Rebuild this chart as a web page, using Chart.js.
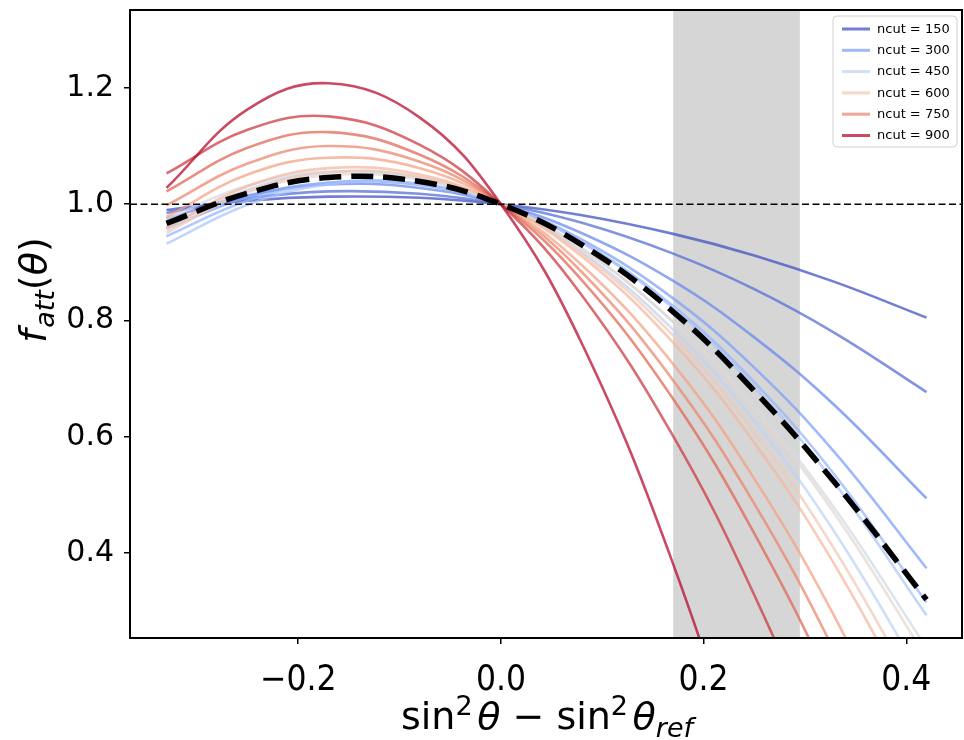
<!DOCTYPE html>
<html>
<head>
<meta charset="utf-8">
<script src="https://cdn.jsdelivr.net/npm/chart.js@4.4.0/dist/chart.umd.min.js"></script>
<style>
  html, body { margin: 0; padding: 0; background: #fff; }
  #c { display: block; }
</style>
</head>
<body>
<canvas id="c" width="964" height="740"></canvas>
<script>
(function() {
'use strict';

// --- data ---
const xVals = [-0.33, -0.25, -0.17, -0.08, 0, 0.08, 0.17, 0.25, 0.33, 0.42];
const ncutValues = [150, 200, 250, 300, 350, 400, 450, 500, 550, 600, 650, 700, 750, 800, 850, 900];
const legendNcuts = [150, 300, 450, 600, 750, 900];

const f150 = [0.990, 1.006, 1.013, 1.011, 1, 0.981, 0.949, 0.912, 0.866, 0.805];
const f200 = [0.985, 1.010, 1.022, 1.018, 1, 0.968, 0.915, 0.854, 0.778, 0.677];
const f250 = [0.975, 1.015, 1.034, 1.028, 1, 0.950, 0.868, 0.771, 0.653, 0.494];
const f300 = [0.958, 1.012, 1.037, 1.033, 1, 0.939, 0.838, 0.719, 0.572, 0.374];
const f350 = [0.945, 1.006, 1.037, 1.035, 1, 0.935, 0.825, 0.694, 0.533, 0.315];
const f400 = [0.932, 0.999, 1.034, 1.034, 1, 0.934, 0.821, 0.686, 0.519, 0.293];
const f450 = [0.960, 1.025, 1.055, 1.046, 1, 0.918, 0.784, 0.627, 0.434, 0.174];
const f500 = [0.975, 1.032, 1.056, 1.044, 1, 0.923, 0.798, 0.653, 0.475, 0.237];
const f550 = [0.956, 1.020, 1.050, 1.042, 1, 0.924, 0.797, 0.648, 0.466, 0.220];
const f600 = [0.951, 1.022, 1.055, 1.047, 1, 0.915, 0.774, 0.608, 0.404, 0.130];
const f650 = [0.960, 1.031, 1.062, 1.051, 1, 0.910, 0.762, 0.590, 0.378, 0.093];
const f700 = [0.978, 1.051, 1.080, 1.062, 1, 0.895, 0.725, 0.528, 0.288, -0.033];
const f750 = [0.998, 1.070, 1.100, 1.073, 1, 0.883, 0.697, 0.485, 0.228, -0.114];
const f800 = [1.022, 1.097, 1.124, 1.085, 1, 0.869, 0.665, 0.434, 0.157, -0.211];
const f850 = [1.053, 1.128, 1.151, 1.102, 1, 0.843, 0.601, 0.328, 0.000, -0.435];
const f900 = [1.028, 1.163, 1.208, 1.149, 1, 0.760, 0.381, -0.052, -0.576, -1.275];
const fMean = [0.967, 1.019, 1.046, 1.039, 1, 0.930, 0.815, 0.679, 0.520, 0.320];

const refLevel = 1.0;
const shadeBand = [0.17, 0.295];
const xRange = [-0.366, 0.455];
const yRange = [0.254, 1.334];
const xTicks = [-0.2, 0.0, 0.2, 0.4];
const yTicks = [0.4, 0.6, 0.8, 1.0, 1.2];

const curves = [f150, f200, f250, f300, f350, f400, f450, f500,
                f550, f600, f650, f700, f750, f800, f850, f900];

// coolwarm colormap stops
const cwStops = [
  [59, 76, 192], [98, 130, 234], [141, 176, 254], [184, 208, 249],
  [221, 221, 221], [245, 196, 173], [244, 154, 123], [222, 96, 77], [180, 4, 38]
];
function coolwarm(t, alpha) {
  const p = t * (cwStops.length - 1);
  const i = Math.min(Math.floor(p), cwStops.length - 2);
  const f = p - i;
  const c = cwStops[i].map((v, k) => Math.round(v + (cwStops[i + 1][k] - v) * f));
  return 'rgba(' + c[0] + ',' + c[1] + ',' + c[2] + ',' + alpha + ')';
}

function toPoints(ys) {
  return ys.map((y, i) => ({ x: xVals[i], y: y }));
}

const datasets = [];
datasets.push({
  label: 'ref',
  data: [{ x: xRange[0], y: refLevel }, { x: xRange[1], y: refLevel }],
  borderColor: '#000',
  borderWidth: 1.6,
  borderDash: [7, 3.5],
  tension: 0,
  order: 0,
  clip: 0
});
datasets.push({
  label: 'mean',
  data: toPoints(fMean),
  borderColor: '#000',
  borderWidth: 5.5,
  borderDash: [22, 10],
  order: 1,
  clip: 0
});
curves.forEach((ys, i) => {
  const t = (ncutValues[i] - ncutValues[0]) / (ncutValues[ncutValues.length - 1] - ncutValues[0]);
  datasets.push({
    label: 'ncut = ' + ncutValues[i],
    ncut: ncutValues[i],
    data: toPoints(ys),
    borderColor: coolwarm(t, 0.72),
    borderWidth: 2.6,
    order: 2 + (curves.length - i),
    clip: 0
  });
});

const FONT = "'DejaVu Sans', 'Liberation Sans', sans-serif";

// rich text: segments of {t, italic, scale, dy, gap}
function drawRich(ctx, segs, size, x, y) {
  let w = 0;
  segs.forEach(s => {
    ctx.font = (s.italic ? 'italic ' : '') + Math.round(size * (s.scale || 1)) + 'px ' + FONT;
    s.w = ctx.measureText(s.t).width + (s.gap || 0) * size;
    w += s.w;
  });
  let cx = x - w / 2;
  segs.forEach(s => {
    ctx.font = (s.italic ? 'italic ' : '') + Math.round(size * (s.scale || 1)) + 'px ' + FONT;
    ctx.fillText(s.t, cx, y + (s.dy || 0) * size);
    cx += s.w;
  });
}

const decor = {
  id: 'decor',
  beforeDatasetsDraw(chart) {
    const { ctx, chartArea: a, scales: { x } } = chart;
    ctx.save();
    ctx.fillStyle = '#d6d6d6';
    const x0 = x.getPixelForValue(shadeBand[0]);
    const x1 = x.getPixelForValue(shadeBand[1]);
    ctx.fillRect(x0, a.top, x1 - x0, a.bottom - a.top);
    ctx.restore();
  },
  afterDraw(chart) {
    const { ctx, chartArea: a } = chart;
    ctx.save();
    // frame
    ctx.strokeStyle = '#000';
    ctx.lineWidth = 2;
    ctx.strokeRect(a.left, a.top, a.right - a.left, a.bottom - a.top);

    // axis titles
    ctx.fillStyle = '#000';
    ctx.textBaseline = 'alphabetic';
    ctx.textAlign = 'left';
    drawRich(ctx, [
      { t: 'sin' }, { t: '2', scale: 0.7, dy: -0.38, gap: 0.12 }, { t: 'θ', italic: true },
      { t: ' − ' },
      { t: 'sin' }, { t: '2', scale: 0.7, dy: -0.38, gap: 0.12 }, { t: 'θ', italic: true },
      { t: 'ref', italic: true, scale: 0.7, dy: 0.2 }
    ], 38, 547, 729);

    ctx.save();
    ctx.translate(46, 290);
    ctx.rotate(-Math.PI / 2);
    drawRich(ctx, [
      { t: 'f', italic: true, gap: 0.04 }, { t: 'att', italic: true, scale: 0.7, dy: 0.2 },
      { t: '(' }, { t: 'θ', italic: true }, { t: ')' }
    ], 38, 0, 0);
    ctx.restore();

    // legend
    const items = chart.data.datasets.filter(d => legendNcuts.includes(d.ncut))
      .sort((p, q) => p.ncut - q.ncut);
    const lx = 833, ly = 16, lw = 124, lh = 131;
    ctx.beginPath();
    ctx.roundRect(lx, ly, lw, lh, 4);
    ctx.fillStyle = 'rgba(255,255,255,0.85)';
    ctx.fill();
    ctx.strokeStyle = '#d0d0d0';
    ctx.lineWidth = 1;
    ctx.stroke();
    ctx.font = '13px ' + FONT;
    ctx.textBaseline = 'middle';
    items.forEach((d, i) => {
      const yy = 29 + i * 21.3;
      ctx.beginPath();
      ctx.moveTo(842, yy);
      ctx.lineTo(870, yy);
      ctx.strokeStyle = d.borderColor;
      ctx.lineWidth = 3;
      ctx.stroke();
      ctx.fillStyle = '#000';
      ctx.fillText(d.label, 877, yy + 0.5);
    });
    ctx.restore();
  }
};

new Chart(document.getElementById('c'), {
  type: 'line',
  data: { datasets: datasets },
  plugins: [decor],
  options: {
    responsive: false,
    animation: false,
    devicePixelRatio: 1,
    layout: { padding: { top: 10, right: 2, left: 0, bottom: 0 } },
    elements: { point: { radius: 0 }, line: { tension: 0.4, capStyle: 'butt' } },
    plugins: { legend: { display: false }, tooltip: { enabled: false } },
    scales: {
      x: {
        type: 'linear',
        min: xRange[0],
        max: xRange[1],
        afterBuildTicks: s => { s.ticks = xTicks.map(v => ({ value: v })); },
        afterFit: s => { s.height = 102; s.paddingLeft = 0; s.paddingRight = 0; },
        ticks: {
          color: '#000',
          padding: 16,
          maxRotation: 0,
          font: { family: "'DejaVu Sans Condensed', 'DejaVu Sans', sans-serif", size: 35 },
          callback: v => (v < 0 ? '−' : '') + Math.abs(v).toFixed(1)
        },
        grid: { drawOnChartArea: false, color: '#000', tickLength: 6, lineWidth: 1.5 },
        border: { color: '#000', width: 2 }
      },
      y: {
        type: 'linear',
        min: yRange[0],
        max: yRange[1],
        afterBuildTicks: s => { s.ticks = yTicks.map(v => ({ value: v })); },
        afterFit: s => { s.width = 130; s.paddingTop = 0; s.paddingBottom = 0; },
        ticks: {
          color: '#000',
          padding: 10,
          font: { family: FONT, size: 30 },
          callback: v => v.toFixed(1)
        },
        grid: { drawOnChartArea: false, color: '#000', tickLength: 6, lineWidth: 1.5 },
        border: { color: '#000', width: 2 }
      }
    }
  }
});

})();
</script>
</body>
</html>
